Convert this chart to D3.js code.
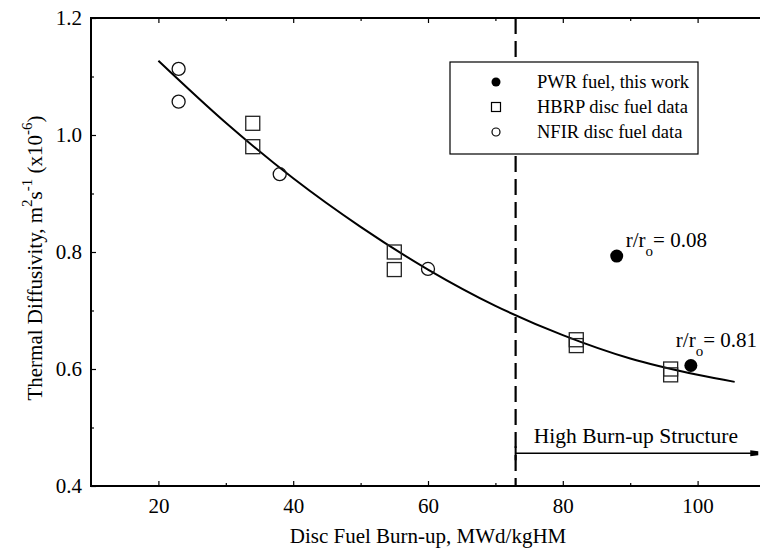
<!DOCTYPE html>
<html>
<head>
<meta charset="utf-8">
<script src="https://cdn.jsdelivr.net/npm/d3@7"></script>
<style>
  html, body { margin: 0; padding: 0; background: #fff; }
  svg { display: block; font-family: "Liberation Serif", "DejaVu Serif", serif; }
</style>
</head>
<body>
<svg id="chart" width="760" height="548"></svg>
<script>
// Thermal diffusivity versus disc burn-up
const pwrFuel = [ { x: 88, y: 0.793 }, { x: 99, y: 0.606 } ];
const hbrpDisc = [
  { x: 34, y: 1.02 }, { x: 34, y: 0.98 },
  { x: 55, y: 0.80 }, { x: 55, y: 0.77 },
  { x: 82, y: 0.65 }, { x: 82, y: 0.64 },
  { x: 96, y: 0.60 }, { x: 96, y: 0.59 }
];
const nfirDisc = [
  { x: 23, y: 1.113 }, { x: 23, y: 1.057 },
  { x: 38, y: 0.933 }, { x: 60, y: 0.771 }
];
// fitted trend curve
const fitCurve = [
  { x: 20, y: 1.127 }, { x: 30, y: 1.021 }, { x: 40, y: 0.926 },
  { x: 50, y: 0.843 }, { x: 60, y: 0.770 }, { x: 70, y: 0.708 },
  { x: 80, y: 0.658 }, { x: 90, y: 0.618 }, { x: 100, y: 0.590 },
  { x: 105.5, y: 0.578 }
];
const xMajorTicks = [20, 40, 60, 80, 100];
const xMinorTicks = [30, 50, 70, 90];
const yMajorTicks = [0.4, 0.6, 0.8, 1.0, 1.2];
const yMinorTicks = [0.5, 0.7, 0.9, 1.1];
const hbsThreshold = 73;
const hbsEnd = 109;
const hbsLevel = 0.456;
// radial position labels; dx/dy place each label relative to its point
const annotations = [
  { x: 88, y: 0.793, value: "0.08", dx: 9, dy: -9 },
  { x: 99, y: 0.606, value: "0.81", dx: -15, dy: -18 }
];
const legendItems = [
  { type: "pwr", label: "PWR fuel, this work" },
  { type: "hbrp", label: "HBRP disc fuel data" },
  { type: "nfir", label: "NFIR disc fuel data" }
];

const svg = d3.select("#chart");
const plotLeft = 91, plotTop = 18, plotBottom = 486, plotRight = 765;
const x = d3.scaleLinear().domain([10, 110]).range([plotLeft, plotRight]);
const y = d3.scaleLinear().domain([0.4, 1.2]).range([plotBottom, plotTop]);

const fontSize = 21;

// frame lines (left, bottom, top)
const frame = svg.append("g").attr("stroke", "#000").attr("stroke-width", 2);
frame.append("line").attr("x1", plotLeft).attr("x2", plotLeft).attr("y1", plotTop - 1).attr("y2", plotBottom + 1);
frame.append("line").attr("x1", plotLeft - 1).attr("x2", 760).attr("y1", plotBottom).attr("y2", plotBottom);
frame.append("line").attr("x1", plotLeft - 1).attr("x2", 760).attr("y1", plotTop).attr("y2", plotTop);

function styleAxis(g) {
  g.select(".domain").remove();
  g.selectAll(".tick line").attr("stroke", "#000").attr("stroke-width", 1.2);
  g.selectAll(".tick text").attr("font-family", "Liberation Serif, serif").attr("font-size", fontSize).attr("fill", "#000");
}

// bottom axis, inward ticks
svg.append("g").attr("transform", `translate(0,${plotBottom})`)
  .call(d3.axisBottom(x).tickValues(xMajorTicks).tickSize(-5).tickPadding(12).tickFormat(d3.format("d")))
  .call(styleAxis);
svg.append("g").attr("transform", `translate(0,${plotBottom})`)
  .call(d3.axisBottom(x).tickValues(xMinorTicks).tickSize(-3).tickFormat(""))
  .call(styleAxis);
// top axis, inward ticks without labels
svg.append("g").attr("transform", `translate(0,${plotTop})`)
  .call(d3.axisTop(x).tickValues(xMajorTicks).tickSize(-5).tickFormat(""))
  .call(styleAxis);
svg.append("g").attr("transform", `translate(0,${plotTop})`)
  .call(d3.axisTop(x).tickValues(xMinorTicks).tickSize(-3).tickFormat(""))
  .call(styleAxis);
// left axis
svg.append("g").attr("transform", `translate(${plotLeft},0)`)
  .call(d3.axisLeft(y).tickValues(yMajorTicks).tickSize(-5).tickPadding(9).tickFormat(d3.format(".1f")))
  .call(styleAxis);
svg.append("g").attr("transform", `translate(${plotLeft},0)`)
  .call(d3.axisLeft(y).tickValues(yMinorTicks).tickSize(-3).tickFormat(""))
  .call(styleAxis);

// high burn-up threshold
svg.append("line")
  .attr("x1", x(hbsThreshold)).attr("x2", x(hbsThreshold))
  .attr("y1", plotTop).attr("y2", plotBottom)
  .attr("stroke", "#000").attr("stroke-width", 2.2)
  .attr("stroke-dasharray", "16,7");

// fitted curve
svg.append("path")
  .datum(fitCurve)
  .attr("fill", "none").attr("stroke", "#000").attr("stroke-width", 2)
  .attr("d", d3.line().x(d => x(d.x)).y(d => y(d.y)).curve(d3.curveCatmullRom));

// markers
svg.append("g").selectAll("rect").data(hbrpDisc).join("rect")
  .attr("x", d => x(d.x) - 7).attr("y", d => y(d.y) - 7)
  .attr("width", 14).attr("height", 14)
  .attr("fill", "none").attr("stroke", "#222").attr("stroke-width", 1.3);
svg.append("g").selectAll("circle").data(nfirDisc).join("circle")
  .attr("cx", d => x(d.x)).attr("cy", d => y(d.y)).attr("r", 6.5)
  .attr("fill", "none").attr("stroke", "#111").attr("stroke-width", 1.3);
svg.append("g").selectAll("circle").data(pwrFuel).join("circle")
  .attr("cx", d => x(d.x)).attr("cy", d => y(d.y)).attr("r", 6.5)
  .attr("fill", "#000");

// radial position annotations
annotations.forEach(a => {
  const t = svg.append("text")
    .attr("x", x(a.x) + a.dx).attr("y", y(a.y) + a.dy)
    .attr("font-size", fontSize).attr("fill", "#000");
  t.append("tspan").text("r/r");
  t.append("tspan").attr("dy", 9).attr("font-size", 15).text("o");
  t.append("tspan").attr("dy", -9).text("= " + a.value);
});

// high burn-up structure region marker
const hb = svg.append("g").attr("stroke", "#000");
hb.append("line").attr("x1", x(hbsThreshold)).attr("x2", x(hbsEnd) - 6)
  .attr("y1", y(hbsLevel)).attr("y2", y(hbsLevel)).attr("stroke-width", 1.5);
hb.append("line").attr("x1", x(hbsThreshold)).attr("x2", x(hbsThreshold))
  .attr("y1", y(hbsLevel) - 7).attr("y2", y(hbsLevel) + 7).attr("stroke-width", 2);
hb.append("path")
  .attr("d", `M${x(hbsEnd) - 8},${y(hbsLevel) - 3}L${x(hbsEnd)},${y(hbsLevel) - 2}L${x(hbsEnd)},${y(hbsLevel) + 2}L${x(hbsEnd) - 8},${y(hbsLevel) + 3}Z`)
  .attr("fill", "#000").attr("stroke", "none");
svg.append("text")
  .attr("x", (x(hbsThreshold) + x(hbsEnd)) / 2 - 1).attr("y", y(hbsLevel) - 10)
  .attr("text-anchor", "middle").attr("font-size", 21.5).attr("fill", "#000")
  .text("High Burn-up Structure");

// legend
const lg = svg.append("g").attr("transform", "translate(450,62)");
lg.append("rect").attr("width", 248).attr("height", 92)
  .attr("fill", "#fff").attr("stroke", "#000").attr("stroke-width", 1.2);
legendItems.forEach((item, i) => {
  const cy = 20 + i * 25;
  if (item.type === "pwr") {
    lg.append("circle").attr("cx", 46).attr("cy", cy).attr("r", 4.5).attr("fill", "#000");
  } else if (item.type === "hbrp") {
    lg.append("rect").attr("x", 41.5).attr("y", cy - 4.5).attr("width", 9).attr("height", 9)
      .attr("fill", "none").attr("stroke", "#000").attr("stroke-width", 1.2);
  } else {
    lg.append("circle").attr("cx", 46).attr("cy", cy).attr("r", 4)
      .attr("fill", "none").attr("stroke", "#000").attr("stroke-width", 1.2);
  }
  lg.append("text").attr("x", 87).attr("y", cy + 6)
    .attr("font-size", 18.5).attr("fill", "#000").text(item.label);
});

// axis titles
svg.append("text")
  .attr("x", 428).attr("y", 543)
  .attr("text-anchor", "middle").attr("font-size", fontSize).attr("fill", "#000")
  .text("Disc Fuel Burn-up, MWd/kgHM");

const yt = svg.append("text")
  .attr("transform", "translate(42,258) rotate(-90)")
  .attr("text-anchor", "middle").attr("font-size", fontSize).attr("fill", "#000");
yt.append("tspan").text("Thermal Diffusivity, m");
yt.append("tspan").attr("dy", -10).attr("font-size", 15).text("2");
yt.append("tspan").attr("dy", 10).text("s");
yt.append("tspan").attr("dy", -10).attr("font-size", 15).text("-1");
yt.append("tspan").attr("dy", 10).text(" (x10");
yt.append("tspan").attr("dy", -10).attr("font-size", 15).text("-6");
yt.append("tspan").attr("dy", 10).text(")");
</script>
</body>
</html>
